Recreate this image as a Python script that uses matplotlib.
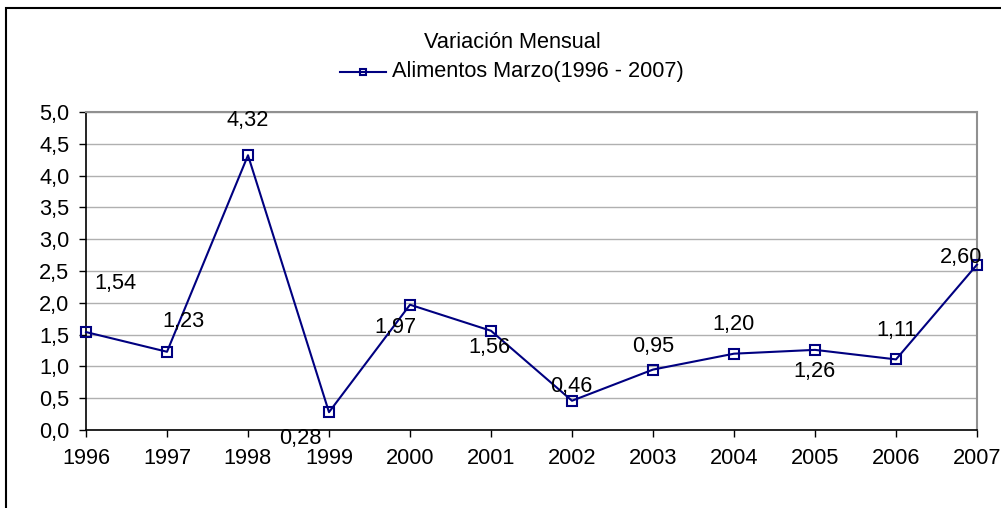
import matplotlib
matplotlib.use("Agg")
import matplotlib.pyplot as plt
from matplotlib.patches import Rectangle
from matplotlib.lines import Line2D

years = [1996, 1997, 1998, 1999, 2000, 2001, 2002, 2003, 2004, 2005, 2006, 2007]
values = [1.54, 1.23, 4.32, 0.28, 1.97, 1.56, 0.46, 0.95, 1.20, 1.26, 1.11, 2.60]
labels = ["1,54", "1,23", "4,32", "0,28", "1,97", "1,56", "0,46", "0,95", "1,20", "1,26", "1,11", "2,60"]
yticks = [0.0, 0.5, 1.0, 1.5, 2.0, 2.5, 3.0, 3.5, 4.0, 4.5, 5.0]
ytick_labels = ["0,0", "0,5", "1,0", "1,5", "2,0", "2,5", "3,0", "3,5", "4,0", "4,5", "5,0"]
title = "Variación Mensual"
series_name = "Alimentos Marzo(1996 - 2007)"

# label offsets in pixels (dx, dy) relative to each marker
offsets = [(29, 49), (17, 30), (0, 35), (-29, -26), (-15, -23), (-2, -17),
           (-1, 14), (0, 23), (0, 29), (0, -22), (1, 29), (-16, 7)]

FS = 15.7
plt.rcParams['font.family'] = ['Liberation Sans', 'DejaVu Sans']
W, H = 1001, 508
fig = plt.figure(figsize=(W / 100, H / 100), dpi=100)
L, R, T, B = 86, 977, 112, 430
ax = fig.add_axes([L / W, 1 - B / H, (R - L) / W, (B - T) / H])

navy = "#000080"
ax.plot(years, values, color=navy, lw=1.5, marker="s", markersize=7,
        markerfacecolor="none", markeredgecolor=navy, markeredgewidth=1.5,
        clip_on=False, zorder=3)

for x, y, s, (dx, dy) in zip(years, values, labels, offsets):
    ax.annotate(s, (x, y), xytext=(dx, dy), textcoords="offset pixels",
                ha="center", va="center", fontsize=FS, color="black")

ax.set_xlim(years[0], years[-1])
ax.set_ylim(0, 5)
ax.set_xticks(years)
ax.set_xticklabels([str(y) for y in years], fontsize=FS)
ax.set_yticks(yticks)
ax.set_yticklabels(ytick_labels, fontsize=FS)
ax.tick_params(axis="both", direction="out", length=5, width=1, color="black")
ax.tick_params(axis="x", pad=8)
ax.tick_params(axis="y", pad=7)
ax.grid(axis="y", color="#b0b0b0", lw=1)
ax.set_axisbelow(True)
for side in ["left", "bottom"]:
    ax.spines[side].set_color("black")
    ax.spines[side].set_linewidth(1.2)
for side in ["top", "right"]:
    ax.spines[side].set_color("#909090")
    ax.spines[side].set_linewidth(1.5)

fig.text(512 / W, 1 - 42 / H, title, ha="center", va="center", fontsize=FS)
fig.add_artist(Line2D([340 / W, 386 / W], [1 - 72 / H, 1 - 72 / H], color=navy, lw=1.5))
fig.add_artist(Line2D([363 / W], [1 - 72 / H], marker="s", markersize=5,
                      markerfacecolor="none", markeredgecolor=navy, markeredgewidth=1.5))
fig.text(392 / W, 1 - 72 / H, series_name, ha="left", va="center", fontsize=FS)

fig.add_artist(Rectangle((6 / W, -0.1), 1.1, 1 - 8 / H + 0.1, transform=fig.transFigure,
                         fill=False, edgecolor="black", lw=1.5))

fig.savefig("out.png", dpi=100)
